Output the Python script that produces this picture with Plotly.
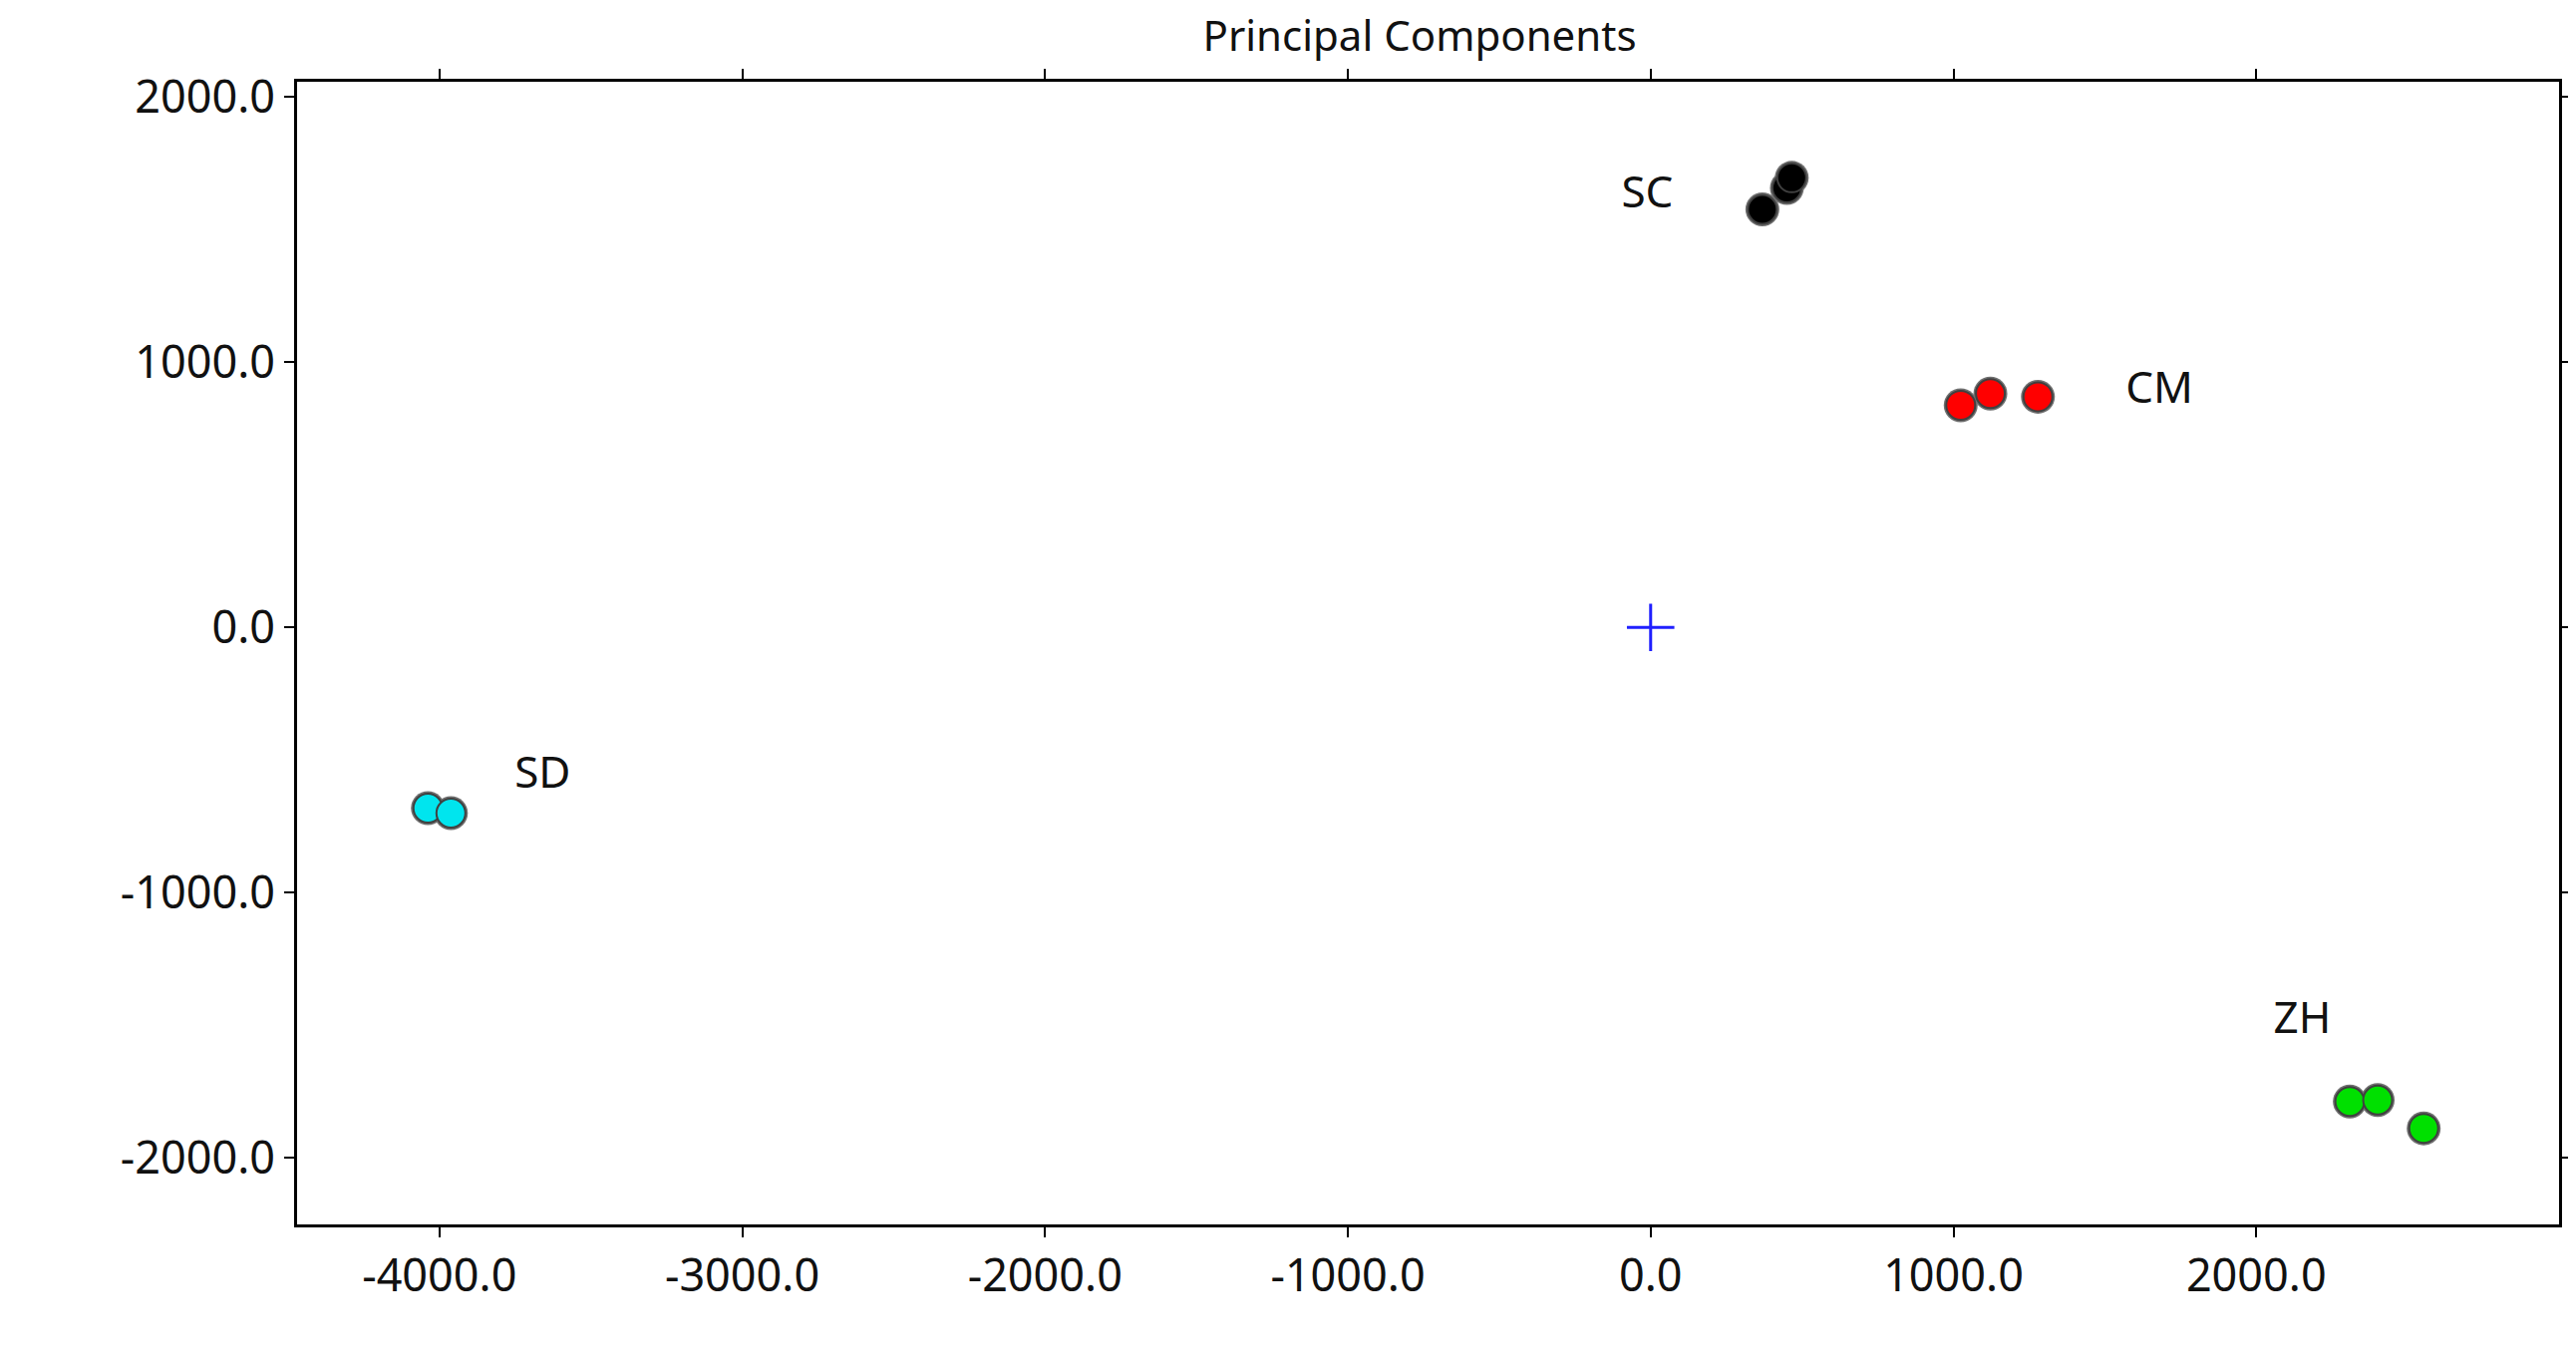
import plotly.graph_objects as go

groups = ["SC", "CM", "SD", "ZH"]
colors = ["#000000", "#ff0000", "#00e5ee", "#00e000"]
pc1 = [[369, 450, 466], [1024, 1122, 1279], [-4038, -3962], [2309, 2401, 2553]]
pc2 = [[1575, 1656, 1694], [837, 881, 869], [-681, -700], [-1787, -1781, -1888]]
label_x = [-11, 1680, -3659, 2152]
label_y = [1625, 887, -562, -1487]
x_ticks = [-4000, -3000, -2000, -1000, 0, 1000, 2000]
y_ticks = [-2000, -1000, 0, 1000, 2000]

fig = go.Figure()
for g, c, xs, ys in zip(groups, colors, pc1, pc2):
    fig.add_trace(go.Scatter(x=xs, y=ys, mode="markers", showlegend=False, hoverinfo="skip",
                             marker=dict(size=34, color="#707070")))
    fig.add_trace(go.Scatter(x=xs, y=ys, mode="markers", name=g, showlegend=False,
                             marker=dict(size=29, color=c, line=dict(color="#404040", width=2))))
fig.add_trace(go.Scatter(x=[0], y=[0], mode="markers", showlegend=False,
                         marker=dict(symbol="cross-thin", size=34, line=dict(color="#2020ff", width=3))))
fig.add_trace(go.Scatter(x=label_x, y=label_y, text=groups, mode="text", showlegend=False,
                         textfont=dict(size=44, color="#111111")))

fig.update_layout(
    width=2584, height=1373, plot_bgcolor="white", paper_bgcolor="white",
    font=dict(family="Noto Sans", color="#111111"),
    title=dict(text="Principal Components", x=0.548, xanchor="center", y=0.99, yanchor="top",
               font=dict(size=42)),
    margin=dict(l=290, r=12, t=74, b=153),
    annotations=[
        dict(text="PC-1 [67%]", xref="paper", yref="paper", x=0.441, y=-0.185,
             showarrow=False, font=dict(size=31)),
        dict(text="PC-2 [21%]", xref="paper", yref="paper", x=-0.193, y=0.63,
             textangle=-90, showarrow=False, font=dict(size=31)),
    ],
)
fig.update_xaxes(range=[-4470, 3000], tickvals=x_ticks, ticktext=[f"{v:.1f}" for v in x_ticks],
                 showgrid=False, zeroline=False, showline=True, linecolor="black", linewidth=3,
                 mirror="ticks", ticks="outside", ticklen=10, tickwidth=2, tickcolor="black",
                 tickfont=dict(size=45))
fig.update_yaxes(range=[-2250, 2056], tickvals=y_ticks, ticktext=[f"{v:.1f}" for v in y_ticks],
                 showgrid=False, zeroline=False, showline=True, linecolor="black", linewidth=3,
                 mirror="ticks", ticks="outside", ticklen=10, tickwidth=2, tickcolor="black",
                 tickfont=dict(size=45))
fig.write_html("out.html")
